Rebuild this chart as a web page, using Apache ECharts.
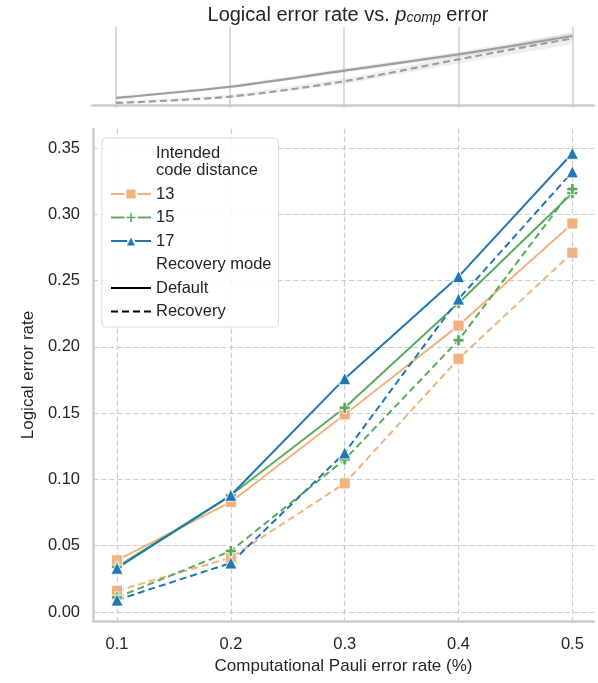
<!DOCTYPE html>
<html>
<head>
<meta charset="utf-8">
<script src="https://cdn.jsdelivr.net/npm/echarts@6/dist/echarts.min.js"></script>
<style>
  html, body { margin: 0; padding: 0; background: #fff; }
  #main { width: 598px; height: 683px; }
</style>
</head>
<body>
<div id="main"></div>
<script>
var chartDom = document.getElementById('main');
var myChart = echarts.init(chartDom);
var option;

// data
var pauliRates = [0.1, 0.2, 0.3, 0.4, 0.5];
var distances = ['13', '15', '17'];
var default13 = [0.039, 0.083, 0.149, 0.216, 0.293];
var recovery13 = [0.016, 0.041, 0.097, 0.191, 0.271];
var default15 = [0.034, 0.088, 0.154, 0.233, 0.316];
var recovery15 = [0.011, 0.046, 0.115, 0.205, 0.319];
var default17 = [0.033, 0.088, 0.176, 0.253, 0.346];
var recovery17 = [0.009, 0.037, 0.120, 0.236, 0.332];

// top panel: averaged curves and their shaded bands
var topDefault = [0.035, 0.086, 0.160, 0.234, 0.318];
var topRecovery = [0.012, 0.041, 0.111, 0.211, 0.307];
var topDefaultLow = [0.029, 0.079, 0.150, 0.222, 0.302];
var topDefaultHigh = [0.041, 0.093, 0.170, 0.246, 0.334];
var topRecoveryLow = [0.006, 0.034, 0.098, 0.192, 0.280];
var topRecoveryHigh = [0.018, 0.048, 0.124, 0.230, 0.334];

var colors = { '13': '#f0b27f', '15': '#5aab5d', '17': '#1f77b4' };
var symbols = {
    '13': 'rect',
    '15': 'path://M3.4,0H6.6V3.4H10V6.6H6.6V10H3.4V6.6H0V3.4H3.4Z',
    '17': 'triangle'
};
var symbolSizes = { '13': 11, '15': 11, '17': 12 };
var defaultVals = { '13': default13, '15': default15, '17': default17 };
var recoveryVals = { '13': recovery13, '15': recovery15, '17': recovery17 };

var FONT = 'Liberation Sans, Arial, sans-serif';
var TXT = '#262626';

function pairs(xs, ys) {
    return xs.map(function (x, i) { return [x, ys[i]]; });
}

var seriesList = [];

// top panel bands (polygon between low and high)
[[topDefaultLow, topDefaultHigh], [topRecoveryLow, topRecoveryHigh]].forEach(function (b) {
    seriesList.push({
        type: 'custom', xAxisIndex: 0, yAxisIndex: 0, silent: true,
        data: [[pauliRates[0], b[0][0]]],
        renderItem: function (params, api) {
            var pts = [];
            pauliRates.forEach(function (x, i) { pts.push(api.coord([x, b[1][i]])); });
            for (var i = pauliRates.length - 1; i >= 0; i--) { pts.push(api.coord([pauliRates[i], b[0][i]])); }
            return {
                type: 'polygon',
                shape: { points: pts },
                style: { fill: 'rgba(150,150,150,0.15)' }
            };
        },
        z: 1
    });
});
seriesList.push({
    type: 'line', xAxisIndex: 0, yAxisIndex: 0, symbol: 'none', silent: true,
    data: pairs(pauliRates, topDefault), smooth: 0.3,
    lineStyle: { color: '#9e9e9e', width: 2.2 }, z: 2
});
seriesList.push({
    type: 'line', xAxisIndex: 0, yAxisIndex: 0, symbol: 'none', silent: true,
    data: pairs(pauliRates, topRecovery), smooth: 0.3,
    lineStyle: { color: '#9e9e9e', width: 2.2, type: [7, 4] }, z: 2
});

// legend heading / style placeholders
seriesList.push({ type: 'line', xAxisIndex: 1, yAxisIndex: 1, name: 'Intended\ncode distance', data: [], symbol: 'none', lineStyle: { opacity: 0, width: 0 } });

distances.forEach(function (d) {
    [['solid', defaultVals[d]], [[7, 4], recoveryVals[d]]].forEach(function (s) {
        seriesList.push({
            type: 'line', xAxisIndex: 1, yAxisIndex: 1, name: d,
            data: pairs(pauliRates, s[1]),
            symbol: symbols[d], symbolSize: symbolSizes[d],
            clip: false,
            color: colors[d],
            itemStyle: { color: colors[d], borderColor: '#fff', borderWidth: 0.8 },
            lineStyle: { color: colors[d], width: 2, type: s[0] },
            z: 3
        });
    });
});

seriesList.push({ type: 'line', xAxisIndex: 1, yAxisIndex: 1, name: 'Recovery mode', data: [], symbol: 'none', lineStyle: { opacity: 0, width: 0 } });
seriesList.push({ type: 'line', xAxisIndex: 1, yAxisIndex: 1, name: 'Default', data: [], symbol: 'none', color: '#000', lineStyle: { color: '#000', width: 2 } });
seriesList.push({ type: 'line', xAxisIndex: 1, yAxisIndex: 1, name: 'Recovery', data: [], symbol: 'none', color: '#000', lineStyle: { color: '#000', width: 2, type: [7, 4] } });

option = {
    animation: false,
    textStyle: { fontFamily: FONT },
    title: {
        left: 343, top: 0, textAlign: 'center',
        text: '{a|Logical error rate vs. }{i|p}{s|comp}{a| error}',
        textStyle: {
            rich: {
                a: { fontSize: 20, fontWeight: 'normal', fontFamily: FONT, color: TXT, lineHeight: 20, verticalAlign: 'bottom' },
                i: { fontSize: 20, fontWeight: 'normal', fontFamily: FONT, fontStyle: 'italic', color: TXT, lineHeight: 20, verticalAlign: 'bottom' },
                s: { fontSize: 14, fontWeight: 'normal', fontFamily: FONT, fontStyle: 'italic', color: TXT, lineHeight: 6, verticalAlign: 'bottom' }
            }
        }
    },
    legend: {
        left: 102, top: 138, orient: 'vertical',
        selectedMode: false,
        itemWidth: 40, itemHeight: 14, itemGap: 6.5,
        padding: [7, 7, 7, 8],
        backgroundColor: 'rgba(255,255,255,0.85)',
        borderColor: '#d9d9d9', borderWidth: 1, borderRadius: 4,
        textStyle: { fontSize: 16.5, color: TXT, fontFamily: FONT, lineHeight: 17 },
        data: [
            { name: 'Intended\ncode distance', icon: 'none' },
            '13', '15', '17',
            { name: 'Recovery mode', icon: 'none' },
            { name: 'Default', itemStyle: { opacity: 0 } },
            { name: 'Recovery', itemStyle: { opacity: 0 } }
        ]
    },
    grid: [
        { left: 92, right: 4, top: 27, bottom: 575 },
        { left: 93, right: 4, top: 129, bottom: 62 }
    ],
    xAxis: [{
        gridIndex: 0, type: 'value', min: 0.0789, max: 0.519, splitNumber: 4,
        axisLine: { show: true, lineStyle: { color: '#cccccc', width: 2.5 } },
        axisTick: { show: false }, axisLabel: { show: false },
        splitLine: { show: true, showMinLine: false, showMaxLine: false, lineStyle: { color: '#cfcfcf', width: 1.5 } }
    }, {
        gridIndex: 1, type: 'value', min: 0.0789, max: 0.519, splitNumber: 4,
        name: 'Computational Pauli error rate (%)', nameLocation: 'middle', nameGap: 37,
        nameTextStyle: { fontSize: 17, color: TXT, fontFamily: FONT },
        axisLine: { show: true, onZero: false, lineStyle: { color: '#cccccc', width: 2.5 } },
        axisTick: { show: false },
        axisLabel: { fontSize: 16.5, color: TXT, margin: 15, showMinLabel: false, showMaxLabel: false,
            formatter: function (v) { return v.toFixed(1); } },
        splitLine: { show: true, showMinLine: false, showMaxLine: false, lineStyle: { color: '#cccccc', width: 1.2, type: [5, 3] } }
    }],
    yAxis: [{
        gridIndex: 0, type: 'value', min: -0.011, max: 0.359,
        show: false, splitLine: { show: false }
    }, {
        gridIndex: 1, type: 'value', min: -0.0068, max: 0.3643, splitNumber: 7,
        name: 'Logical error rate', nameLocation: 'middle', nameGap: 56,
        nameTextStyle: { fontSize: 17, color: TXT, fontFamily: FONT },
        axisLine: { show: true, onZero: false, lineStyle: { color: '#cccccc', width: 2.5 } },
        axisTick: { show: false },
        axisLabel: { fontSize: 16.5, color: TXT, margin: 13, showMinLabel: false, showMaxLabel: false,
            formatter: function (v) { return v.toFixed(2); } },
        splitLine: { show: true, showMinLine: false, showMaxLine: false, lineStyle: { color: '#cccccc', width: 1.2, type: [5, 3] } }
    }],
    series: seriesList
};

option && myChart.setOption(option);
</script>
</body>
</html>
